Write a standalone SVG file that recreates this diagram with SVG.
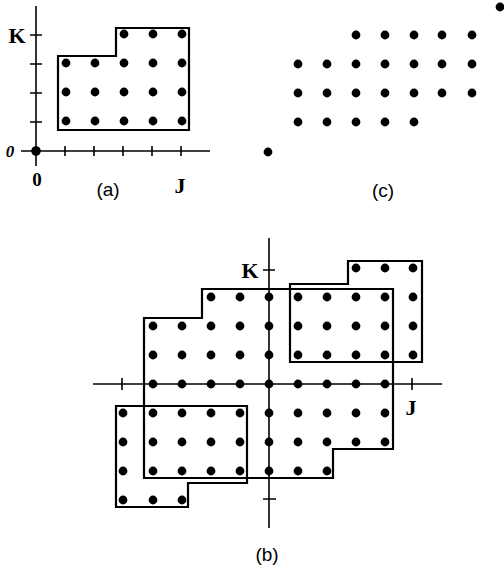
<svg xmlns="http://www.w3.org/2000/svg" width="504" height="571" viewBox="0 0 504 571">
<style>
.ax{stroke:#000;stroke-width:1.6;fill:none}
.bd{stroke:#000;stroke-width:2.2;fill:none;stroke-linejoin:miter}
.d{fill:#000}
.lb{font-family:"Liberation Serif",serif;font-weight:bold;fill:#000}
.cap{font-family:"Liberation Sans",sans-serif;font-size:19px;fill:#000;text-anchor:middle}
</style>
<defs><circle id="p" r="4.4" class="d"/></defs>
<rect width="504" height="571" fill="#fff"/>
<g id="panel-a">
  <g id="a-axes">
    <line class="ax" x1="36" y1="6" x2="36" y2="166"/>
    <line class="ax" x1="21" y1="151" x2="210" y2="151"/>
    <path class="ax" d="M30,35H42M30,64H42M30,93H42M30,122H42M65,146V156M94,146V156M123,146V156M152,146V156M181,146V156"/>
  </g>
  <circle class="d" cx="36" cy="151" r="4.8"/>
  <path id="a-region" class="bd" d="M58,130V56H116V28H189V130Z"/>
  <g id="a-dots">
    <use href="#p" x="124" y="34"/><use href="#p" x="153" y="34"/><use href="#p" x="182" y="34"/>
    <use href="#p" x="66" y="63"/><use href="#p" x="95" y="63"/><use href="#p" x="124" y="63"/><use href="#p" x="153" y="63"/><use href="#p" x="182" y="63"/>
    <use href="#p" x="66" y="92"/><use href="#p" x="95" y="92"/><use href="#p" x="124" y="92"/><use href="#p" x="153" y="92"/><use href="#p" x="182" y="92"/>
    <use href="#p" x="66" y="121"/><use href="#p" x="95" y="121"/><use href="#p" x="124" y="121"/><use href="#p" x="153" y="121"/><use href="#p" x="182" y="121"/>
  </g>
  <text class="lb" x="17" y="43" font-size="22" text-anchor="middle">K</text>
  <text x="10" y="157" font-family="Liberation Serif,serif" font-style="italic" font-weight="bold" font-size="17" text-anchor="middle">0</text>
  <text class="lb" x="37" y="186" font-size="19" text-anchor="middle">0</text>
  <text class="lb" x="180" y="193" font-size="22" text-anchor="middle">J</text>
  <text class="cap" x="108" y="196">(a)</text>
</g>
<g id="panel-c">
  <use href="#p" x="500" y="7"/>
  <use href="#p" x="356" y="35"/><use href="#p" x="385" y="35"/><use href="#p" x="414" y="35"/><use href="#p" x="442" y="35"/><use href="#p" x="472" y="35"/>
  <use href="#p" x="298" y="64"/><use href="#p" x="327" y="64"/><use href="#p" x="356" y="64"/><use href="#p" x="385" y="64"/><use href="#p" x="414" y="64"/><use href="#p" x="442" y="64"/><use href="#p" x="472" y="64"/>
  <use href="#p" x="298" y="93"/><use href="#p" x="327" y="93"/><use href="#p" x="356" y="93"/><use href="#p" x="385" y="93"/><use href="#p" x="414" y="93"/><use href="#p" x="442" y="93"/><use href="#p" x="472" y="93"/>
  <use href="#p" x="298" y="122"/><use href="#p" x="327" y="122"/><use href="#p" x="356" y="122"/><use href="#p" x="385" y="122"/><use href="#p" x="414" y="122"/>
  <use href="#p" x="268" y="152"/>
  <text class="cap" x="383" y="197">(c)</text>
</g>
<g id="panel-b">
  <g id="b-axes">
    <line class="ax" x1="269" y1="238" x2="269" y2="528"/>
    <line class="ax" x1="93" y1="384" x2="442" y2="384"/>
    <path class="ax" d="M263,270H275M263,499H276M122,378V390M412,378V390"/>
  </g>
  <g id="b-regions">
    <path id="b-big" class="bd" d="M202,289H393V449H333V478H144V318H202Z"/>
    <path id="b-upper" class="bd" d="M290,284H348V261H422V362H290Z"/>
    <path id="b-lower" class="bd" d="M116,406H247V483H188V507H116Z"/>
  </g>
  <g id="b-dots">
    <use href="#p" x="356" y="268"/><use href="#p" x="385" y="268"/><use href="#p" x="413" y="268"/>
    <use href="#p" x="211" y="297"/><use href="#p" x="240" y="297"/><use href="#p" x="269" y="297"/><use href="#p" x="298" y="297"/><use href="#p" x="327" y="297"/><use href="#p" x="356" y="297"/><use href="#p" x="385" y="297"/><use href="#p" x="413" y="297"/>
    <use href="#p" x="153" y="326"/><use href="#p" x="182" y="326"/><use href="#p" x="211" y="326"/><use href="#p" x="240" y="326"/><use href="#p" x="269" y="326"/><use href="#p" x="298" y="326"/><use href="#p" x="327" y="326"/><use href="#p" x="356" y="326"/><use href="#p" x="385" y="326"/><use href="#p" x="413" y="326"/>
    <use href="#p" x="153" y="355"/><use href="#p" x="182" y="355"/><use href="#p" x="211" y="355"/><use href="#p" x="240" y="355"/><use href="#p" x="269" y="355"/><use href="#p" x="298" y="355"/><use href="#p" x="327" y="355"/><use href="#p" x="356" y="355"/><use href="#p" x="385" y="355"/><use href="#p" x="413" y="355"/>
    <use href="#p" x="153" y="384"/><use href="#p" x="182" y="384"/><use href="#p" x="211" y="384"/><use href="#p" x="240" y="384"/><use href="#p" x="269" y="384"/><use href="#p" x="298" y="384"/><use href="#p" x="327" y="384"/><use href="#p" x="356" y="384"/><use href="#p" x="385" y="384"/>
    <use href="#p" x="123" y="413"/><use href="#p" x="153" y="413"/><use href="#p" x="182" y="413"/><use href="#p" x="211" y="413"/><use href="#p" x="240" y="413"/><use href="#p" x="269" y="413"/><use href="#p" x="298" y="413"/><use href="#p" x="327" y="413"/><use href="#p" x="356" y="413"/><use href="#p" x="385" y="413"/>
    <use href="#p" x="123" y="442"/><use href="#p" x="153" y="442"/><use href="#p" x="182" y="442"/><use href="#p" x="211" y="442"/><use href="#p" x="240" y="442"/><use href="#p" x="269" y="442"/><use href="#p" x="298" y="442"/><use href="#p" x="327" y="442"/><use href="#p" x="356" y="442"/><use href="#p" x="385" y="442"/>
    <use href="#p" x="123" y="471"/><use href="#p" x="153" y="471"/><use href="#p" x="182" y="471"/><use href="#p" x="211" y="471"/><use href="#p" x="240" y="471"/><use href="#p" x="269" y="471"/><use href="#p" x="298" y="471"/><use href="#p" x="327" y="471"/>
    <use href="#p" x="123" y="500"/><use href="#p" x="153" y="500"/><use href="#p" x="182" y="500"/>
  </g>
  <text class="lb" x="250" y="278" font-size="22" text-anchor="middle">K</text>
  <text class="lb" x="411" y="415" font-size="22" text-anchor="middle">J</text>
  <text class="cap" x="267" y="561">(b)</text>
</g>
</svg>
